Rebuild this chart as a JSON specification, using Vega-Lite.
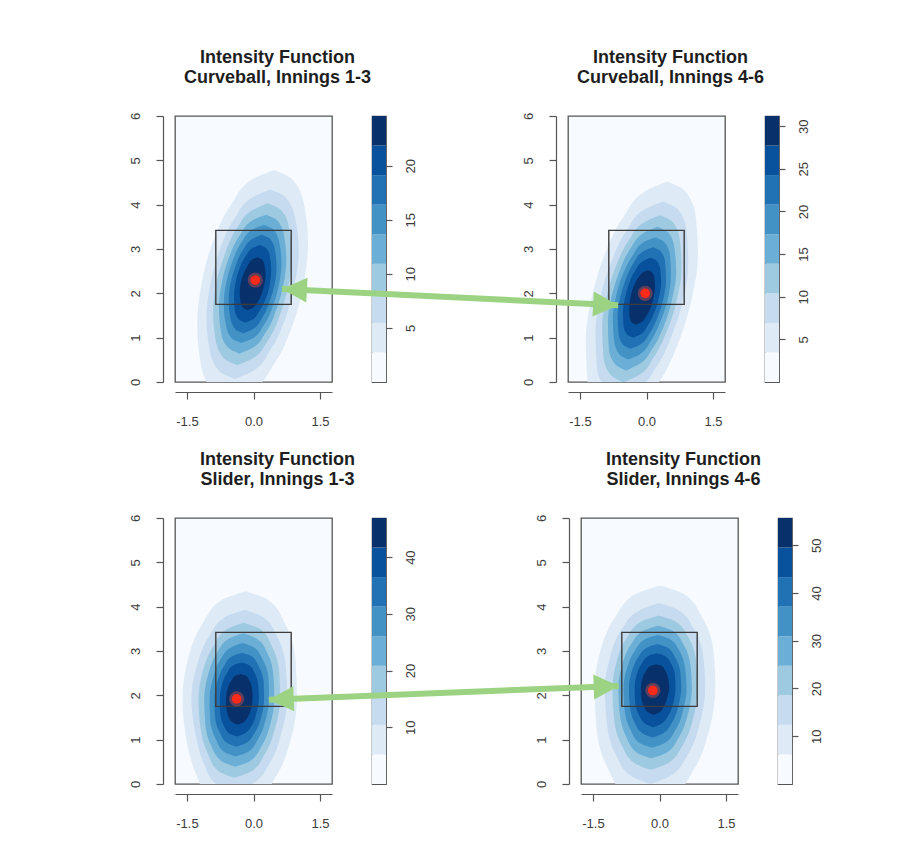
{
"$schema":"https://vega.github.io/schema/vega-lite/v6.json",
"background":"white",
"padding":{"left":128,"top":48,"right":0,"bottom":0},
"config":{
 "view":{"stroke":null},
 "font":"Liberation Sans",
 "axis":{"domainColor":"#555","tickColor":"#555","labelColor":"#3a3a3a","labelFont":"Liberation Sans","labelFontSize":13,"grid":false,"domainWidth":1.2,"tickWidth":1.2,"labelFlush":false,"labelOverlap":false},
 "title":{"font":"Liberation Sans","fontSize":18,"fontWeight":"bold","color":"#1e1e1e"}
},
"datasets":{
"heat":[
{"p":"TL","k":1,"y":-0.38,"a":-0.51,"b":-0.51},{"p":"TL","k":1,"y":-0.17,"a":-0.93,"b":-0.02},{"p":"TL","k":1,"y":0.40,"a":-1.19,"b":0.46},{"p":"TL","k":1,"y":1.31,"a":-1.27,"b":0.89},{"p":"TL","k":1,"y":2.22,"a":-1.17,"b":1.13},{"p":"TL","k":1,"y":3.12,"a":-0.93,"b":1.23},{"p":"TL","k":1,"y":4.01,"a":-0.50,"b":1.14},{"p":"TL","k":1,"y":4.57,"a":-0.03,"b":0.88},{"p":"TL","k":1,"y":4.78,"a":0.47,"b":0.47},
{"p":"TL","k":2,"y":0.07,"a":-0.43,"b":-0.43},{"p":"TL","k":2,"y":0.24,"a":-0.77,"b":-0.02},{"p":"TL","k":2,"y":0.72,"a":-0.99,"b":0.38},{"p":"TL","k":2,"y":1.47,"a":-1.06,"b":0.73},{"p":"TL","k":2,"y":2.22,"a":-0.97,"b":0.93},{"p":"TL","k":2,"y":2.96,"a":-0.77,"b":1.02},{"p":"TL","k":2,"y":3.70,"a":-0.42,"b":0.94},{"p":"TL","k":2,"y":4.17,"a":-0.02,"b":0.72},{"p":"TL","k":2,"y":4.34,"a":0.38,"b":0.38},
{"p":"TL","k":3,"y":0.38,"a":-0.37,"b":-0.37},{"p":"TL","k":3,"y":0.53,"a":-0.66,"b":-0.02},{"p":"TL","k":3,"y":0.93,"a":-0.85,"b":0.32},{"p":"TL","k":3,"y":1.58,"a":-0.91,"b":0.62},{"p":"TL","k":3,"y":2.22,"a":-0.84,"b":0.80},{"p":"TL","k":3,"y":2.85,"a":-0.66,"b":0.86},{"p":"TL","k":3,"y":3.49,"a":-0.36,"b":0.80},{"p":"TL","k":3,"y":3.88,"a":-0.02,"b":0.62},{"p":"TL","k":3,"y":4.03,"a":0.32,"b":0.32},
{"p":"TL","k":4,"y":0.64,"a":-0.32,"b":-0.32},{"p":"TL","k":4,"y":0.77,"a":-0.57,"b":-0.02},{"p":"TL","k":4,"y":1.11,"a":-0.73,"b":0.27},{"p":"TL","k":4,"y":1.67,"a":-0.78,"b":0.53},{"p":"TL","k":4,"y":2.22,"a":-0.72,"b":0.68},{"p":"TL","k":4,"y":2.76,"a":-0.57,"b":0.74},{"p":"TL","k":4,"y":3.31,"a":-0.31,"b":0.69},{"p":"TL","k":4,"y":3.65,"a":-0.02,"b":0.53},{"p":"TL","k":4,"y":3.77,"a":0.28,"b":0.28},
{"p":"TL","k":5,"y":0.88,"a":-0.28,"b":-0.28},{"p":"TL","k":5,"y":0.98,"a":-0.49,"b":-0.02},{"p":"TL","k":5,"y":1.28,"a":-0.62,"b":0.23},{"p":"TL","k":5,"y":1.75,"a":-0.67,"b":0.45},{"p":"TL","k":5,"y":2.22,"a":-0.62,"b":0.58},{"p":"TL","k":5,"y":2.68,"a":-0.49,"b":0.63},{"p":"TL","k":5,"y":3.15,"a":-0.27,"b":0.58},{"p":"TL","k":5,"y":3.44,"a":-0.02,"b":0.45},{"p":"TL","k":5,"y":3.54,"a":0.23,"b":0.23},
{"p":"TL","k":6,"y":1.10,"a":-0.23,"b":-0.23},{"p":"TL","k":6,"y":1.19,"a":-0.41,"b":-0.02},{"p":"TL","k":6,"y":1.44,"a":-0.52,"b":0.19},{"p":"TL","k":6,"y":1.83,"a":-0.56,"b":0.37},{"p":"TL","k":6,"y":2.22,"a":-0.52,"b":0.48},{"p":"TL","k":6,"y":2.60,"a":-0.41,"b":0.52},{"p":"TL","k":6,"y":2.99,"a":-0.23,"b":0.48},{"p":"TL","k":6,"y":3.23,"a":-0.02,"b":0.37},{"p":"TL","k":6,"y":3.32,"a":0.19,"b":0.19},
{"p":"TL","k":7,"y":1.34,"a":-0.19,"b":-0.19},{"p":"TL","k":7,"y":1.41,"a":-0.33,"b":-0.02},{"p":"TL","k":7,"y":1.61,"a":-0.42,"b":0.14},{"p":"TL","k":7,"y":1.91,"a":-0.44,"b":0.29},{"p":"TL","k":7,"y":2.22,"a":-0.41,"b":0.37},{"p":"TL","k":7,"y":2.52,"a":-0.33,"b":0.40},{"p":"TL","k":7,"y":2.83,"a":-0.18,"b":0.37},{"p":"TL","k":7,"y":3.02,"a":-0.02,"b":0.28},{"p":"TL","k":7,"y":3.09,"a":0.14,"b":0.14},
{"p":"TL","k":8,"y":1.62,"a":-0.13,"b":-0.13},{"p":"TL","k":8,"y":1.67,"a":-0.23,"b":-0.02},{"p":"TL","k":8,"y":1.80,"a":-0.29,"b":0.09},{"p":"TL","k":8,"y":2.01,"a":-0.31,"b":0.19},{"p":"TL","k":8,"y":2.22,"a":-0.29,"b":0.25},{"p":"TL","k":8,"y":2.43,"a":-0.23,"b":0.27},{"p":"TL","k":8,"y":2.63,"a":-0.13,"b":0.25},{"p":"TL","k":8,"y":2.77,"a":-0.02,"b":0.19},{"p":"TL","k":8,"y":2.81,"a":0.09,"b":0.09},
{"p":"TR","k":1,"y":-0.81,"a":-0.70,"b":-0.70},{"p":"TR","k":1,"y":-0.59,"a":-1.10,"b":-0.21},{"p":"TR","k":1,"y":0.01,"a":-1.33,"b":0.29},{"p":"TR","k":1,"y":0.97,"a":-1.37,"b":0.75},{"p":"TR","k":1,"y":1.92,"a":-1.23,"b":1.03},{"p":"TR","k":1,"y":2.83,"a":-0.96,"b":1.16},{"p":"TR","k":1,"y":3.74,"a":-0.51,"b":1.11},{"p":"TR","k":1,"y":4.31,"a":-0.02,"b":0.87},{"p":"TR","k":1,"y":4.52,"a":0.47,"b":0.47},
{"p":"TR","k":2,"y":-0.33,"a":-0.60,"b":-0.60},{"p":"TR","k":2,"y":-0.15,"a":-0.92,"b":-0.19},{"p":"TR","k":2,"y":0.34,"a":-1.12,"b":0.22},{"p":"TR","k":2,"y":1.13,"a":-1.15,"b":0.60},{"p":"TR","k":2,"y":1.92,"a":-1.04,"b":0.84},{"p":"TR","k":2,"y":2.67,"a":-0.81,"b":0.94},{"p":"TR","k":2,"y":3.43,"a":-0.44,"b":0.90},{"p":"TR","k":2,"y":3.90,"a":-0.03,"b":0.70},{"p":"TR","k":2,"y":4.07,"a":0.37,"b":0.37},
{"p":"TR","k":3,"y":-0.01,"a":-0.52,"b":-0.52},{"p":"TR","k":3,"y":0.15,"a":-0.80,"b":-0.18},{"p":"TR","k":3,"y":0.57,"a":-0.97,"b":0.17},{"p":"TR","k":3,"y":1.25,"a":-1.00,"b":0.50},{"p":"TR","k":3,"y":1.92,"a":-0.90,"b":0.70},{"p":"TR","k":3,"y":2.56,"a":-0.71,"b":0.79},{"p":"TR","k":3,"y":3.21,"a":-0.39,"b":0.75},{"p":"TR","k":3,"y":3.61,"a":-0.04,"b":0.59},{"p":"TR","k":3,"y":3.76,"a":0.30,"b":0.30},
{"p":"TR","k":4,"y":0.26,"a":-0.46,"b":-0.46},{"p":"TR","k":4,"y":0.40,"a":-0.71,"b":-0.17},{"p":"TR","k":4,"y":0.76,"a":-0.85,"b":0.14},{"p":"TR","k":4,"y":1.34,"a":-0.87,"b":0.42},{"p":"TR","k":4,"y":1.92,"a":-0.79,"b":0.59},{"p":"TR","k":4,"y":2.47,"a":-0.62,"b":0.67},{"p":"TR","k":4,"y":3.03,"a":-0.35,"b":0.63},{"p":"TR","k":4,"y":3.37,"a":-0.05,"b":0.49},{"p":"TR","k":4,"y":3.50,"a":0.25,"b":0.25},
{"p":"TR","k":5,"y":0.51,"a":-0.41,"b":-0.41},{"p":"TR","k":5,"y":0.62,"a":-0.61,"b":-0.16},{"p":"TR","k":5,"y":0.93,"a":-0.73,"b":0.10},{"p":"TR","k":5,"y":1.43,"a":-0.76,"b":0.34},{"p":"TR","k":5,"y":1.92,"a":-0.69,"b":0.49},{"p":"TR","k":5,"y":2.39,"a":-0.55,"b":0.55},{"p":"TR","k":5,"y":2.86,"a":-0.31,"b":0.53},{"p":"TR","k":5,"y":3.16,"a":-0.06,"b":0.40},{"p":"TR","k":5,"y":3.26,"a":0.20,"b":0.20},
{"p":"TR","k":6,"y":0.75,"a":-0.36,"b":-0.36},{"p":"TR","k":6,"y":0.84,"a":-0.53,"b":-0.15},{"p":"TR","k":6,"y":1.10,"a":-0.63,"b":0.07},{"p":"TR","k":6,"y":1.51,"a":-0.65,"b":0.27},{"p":"TR","k":6,"y":1.92,"a":-0.59,"b":0.39},{"p":"TR","k":6,"y":2.31,"a":-0.47,"b":0.44},{"p":"TR","k":6,"y":2.70,"a":-0.28,"b":0.42},{"p":"TR","k":6,"y":2.95,"a":-0.07,"b":0.32},{"p":"TR","k":6,"y":3.04,"a":0.15,"b":0.15},
{"p":"TR","k":7,"y":1.00,"a":-0.30,"b":-0.30},{"p":"TR","k":7,"y":1.07,"a":-0.44,"b":-0.14},{"p":"TR","k":7,"y":1.28,"a":-0.52,"b":0.03},{"p":"TR","k":7,"y":1.60,"a":-0.53,"b":0.19},{"p":"TR","k":7,"y":1.92,"a":-0.48,"b":0.28},{"p":"TR","k":7,"y":2.23,"a":-0.39,"b":0.33},{"p":"TR","k":7,"y":2.54,"a":-0.24,"b":0.31},{"p":"TR","k":7,"y":2.73,"a":-0.07,"b":0.23},{"p":"TR","k":7,"y":2.80,"a":0.09,"b":0.09},
{"p":"TR","k":8,"y":1.29,"a":-0.24,"b":-0.24},{"p":"TR","k":8,"y":1.34,"a":-0.33,"b":-0.13},{"p":"TR","k":8,"y":1.48,"a":-0.38,"b":-0.01},{"p":"TR","k":8,"y":1.70,"a":-0.39,"b":0.10},{"p":"TR","k":8,"y":1.92,"a":-0.36,"b":0.16},{"p":"TR","k":8,"y":2.13,"a":-0.30,"b":0.19},{"p":"TR","k":8,"y":2.34,"a":-0.19,"b":0.18},{"p":"TR","k":8,"y":2.47,"a":-0.08,"b":0.13},{"p":"TR","k":8,"y":2.52,"a":0.03,"b":0.03},
{"p":"BL","k":1,"y":-0.60,"a":-0.47,"b":-0.47},{"p":"BL","k":1,"y":-0.39,"a":-0.97,"b":0.05},{"p":"BL","k":1,"y":0.16,"a":-1.27,"b":0.50},{"p":"BL","k":1,"y":1.04,"a":-1.52,"b":0.85},{"p":"BL","k":1,"y":1.92,"a":-1.60,"b":0.98},{"p":"BL","k":1,"y":2.77,"a":-1.49,"b":0.95},{"p":"BL","k":1,"y":3.62,"a":-1.15,"b":0.71},{"p":"BL","k":1,"y":4.16,"a":-0.70,"b":0.32},{"p":"BL","k":1,"y":4.35,"a":-0.17,"b":-0.17},
{"p":"BL","k":2,"y":-0.16,"a":-0.45,"b":-0.45},{"p":"BL","k":2,"y":0.01,"a":-0.86,"b":-0.01},{"p":"BL","k":2,"y":0.46,"a":-1.12,"b":0.36},{"p":"BL","k":2,"y":1.19,"a":-1.32,"b":0.64},{"p":"BL","k":2,"y":1.92,"a":-1.40,"b":0.76},{"p":"BL","k":2,"y":2.62,"a":-1.29,"b":0.73},{"p":"BL","k":2,"y":3.33,"a":-1.00,"b":0.53},{"p":"BL","k":2,"y":3.77,"a":-0.63,"b":0.21},{"p":"BL","k":2,"y":3.93,"a":-0.20,"b":-0.20},
{"p":"BL","k":3,"y":0.14,"a":-0.43,"b":-0.43},{"p":"BL","k":3,"y":0.28,"a":-0.78,"b":-0.06},{"p":"BL","k":3,"y":0.68,"a":-1.03,"b":0.26},{"p":"BL","k":3,"y":1.30,"a":-1.20,"b":0.50},{"p":"BL","k":3,"y":1.92,"a":-1.24,"b":0.60},{"p":"BL","k":3,"y":2.52,"a":-1.15,"b":0.58},{"p":"BL","k":3,"y":3.12,"a":-0.90,"b":0.41},{"p":"BL","k":3,"y":3.50,"a":-0.59,"b":0.14},{"p":"BL","k":3,"y":3.64,"a":-0.22,"b":-0.22},
{"p":"BL","k":4,"y":0.39,"a":-0.41,"b":-0.41},{"p":"BL","k":4,"y":0.51,"a":-0.71,"b":-0.09},{"p":"BL","k":4,"y":0.85,"a":-0.95,"b":0.18},{"p":"BL","k":4,"y":1.39,"a":-1.09,"b":0.39},{"p":"BL","k":4,"y":1.92,"a":-1.11,"b":0.47},{"p":"BL","k":4,"y":2.44,"a":-1.03,"b":0.45},{"p":"BL","k":4,"y":2.96,"a":-0.82,"b":0.31},{"p":"BL","k":4,"y":3.28,"a":-0.55,"b":0.07},{"p":"BL","k":4,"y":3.40,"a":-0.23,"b":-0.23},
{"p":"BL","k":5,"y":0.62,"a":-0.40,"b":-0.40},{"p":"BL","k":5,"y":0.72,"a":-0.66,"b":-0.13},{"p":"BL","k":5,"y":1.01,"a":-0.85,"b":0.10},{"p":"BL","k":5,"y":1.47,"a":-0.98,"b":0.28},{"p":"BL","k":5,"y":1.92,"a":-0.99,"b":0.35},{"p":"BL","k":5,"y":2.36,"a":-0.92,"b":0.34},{"p":"BL","k":5,"y":2.80,"a":-0.75,"b":0.21},{"p":"BL","k":5,"y":3.08,"a":-0.51,"b":0.01},{"p":"BL","k":5,"y":3.18,"a":-0.25,"b":-0.25},
{"p":"BL","k":6,"y":0.84,"a":-0.39,"b":-0.39},{"p":"BL","k":6,"y":0.93,"a":-0.60,"b":-0.16},{"p":"BL","k":6,"y":1.16,"a":-0.76,"b":0.03},{"p":"BL","k":6,"y":1.54,"a":-0.87,"b":0.18},{"p":"BL","k":6,"y":1.92,"a":-0.88,"b":0.24},{"p":"BL","k":6,"y":2.29,"a":-0.82,"b":0.23},{"p":"BL","k":6,"y":2.65,"a":-0.67,"b":0.12},{"p":"BL","k":6,"y":2.88,"a":-0.48,"b":-0.04},{"p":"BL","k":6,"y":2.96,"a":-0.26,"b":-0.26},
{"p":"BL","k":7,"y":1.07,"a":-0.37,"b":-0.37},{"p":"BL","k":7,"y":1.14,"a":-0.54,"b":-0.20},{"p":"BL","k":7,"y":1.32,"a":-0.67,"b":-0.04},{"p":"BL","k":7,"y":1.62,"a":-0.75,"b":0.07},{"p":"BL","k":7,"y":1.92,"a":-0.76,"b":0.12},{"p":"BL","k":7,"y":2.21,"a":-0.72,"b":0.11},{"p":"BL","k":7,"y":2.50,"a":-0.60,"b":0.03},{"p":"BL","k":7,"y":2.68,"a":-0.45,"b":-0.10},{"p":"BL","k":7,"y":2.74,"a":-0.27,"b":-0.27},
{"p":"BL","k":8,"y":1.34,"a":-0.36,"b":-0.36},{"p":"BL","k":8,"y":1.39,"a":-0.47,"b":-0.23},{"p":"BL","k":8,"y":1.51,"a":-0.56,"b":-0.13},{"p":"BL","k":8,"y":1.72,"a":-0.61,"b":-0.05},{"p":"BL","k":8,"y":1.92,"a":-0.62,"b":-0.02},{"p":"BL","k":8,"y":2.12,"a":-0.59,"b":-0.03},{"p":"BL","k":8,"y":2.31,"a":-0.51,"b":-0.08},{"p":"BL","k":8,"y":2.44,"a":-0.41,"b":-0.17},{"p":"BL","k":8,"y":2.48,"a":-0.29,"b":-0.29},
{"p":"BR","k":1,"y":-0.45,"a":-0.23,"b":-0.23},{"p":"BR","k":1,"y":-0.24,"a":-0.76,"b":0.31},{"p":"BR","k":1,"y":0.34,"a":-1.16,"b":0.78},{"p":"BR","k":1,"y":1.25,"a":-1.42,"b":1.13},{"p":"BR","k":1,"y":2.17,"a":-1.46,"b":1.26},{"p":"BR","k":1,"y":2.98,"a":-1.34,"b":1.22},{"p":"BR","k":1,"y":3.78,"a":-0.99,"b":0.95},{"p":"BR","k":1,"y":4.29,"a":-0.53,"b":0.54},{"p":"BR","k":1,"y":4.48,"a":0.02,"b":0.02},
{"p":"BR","k":2,"y":0.00,"a":-0.21,"b":-0.21},{"p":"BR","k":2,"y":0.18,"a":-0.64,"b":0.24},{"p":"BR","k":2,"y":0.65,"a":-0.98,"b":0.63},{"p":"BR","k":2,"y":1.41,"a":-1.19,"b":0.92},{"p":"BR","k":2,"y":2.17,"a":-1.23,"b":1.03},{"p":"BR","k":2,"y":2.84,"a":-1.12,"b":0.99},{"p":"BR","k":2,"y":3.51,"a":-0.84,"b":0.77},{"p":"BR","k":2,"y":3.92,"a":-0.45,"b":0.43},{"p":"BR","k":2,"y":4.08,"a":-0.01,"b":-0.01},
{"p":"BR","k":3,"y":0.32,"a":-0.19,"b":-0.19},{"p":"BR","k":3,"y":0.47,"a":-0.56,"b":0.19},{"p":"BR","k":3,"y":0.87,"a":-0.85,"b":0.52},{"p":"BR","k":3,"y":1.52,"a":-1.03,"b":0.77},{"p":"BR","k":3,"y":2.17,"a":-1.06,"b":0.86},{"p":"BR","k":3,"y":2.74,"a":-0.97,"b":0.83},{"p":"BR","k":3,"y":3.31,"a":-0.73,"b":0.65},{"p":"BR","k":3,"y":3.67,"a":-0.40,"b":0.35},{"p":"BR","k":3,"y":3.80,"a":-0.02,"b":-0.02},
{"p":"BR","k":4,"y":0.58,"a":-0.18,"b":-0.18},{"p":"BR","k":4,"y":0.70,"a":-0.50,"b":0.15},{"p":"BR","k":4,"y":1.06,"a":-0.75,"b":0.44},{"p":"BR","k":4,"y":1.61,"a":-0.90,"b":0.65},{"p":"BR","k":4,"y":2.17,"a":-0.93,"b":0.73},{"p":"BR","k":4,"y":2.66,"a":-0.85,"b":0.70},{"p":"BR","k":4,"y":3.15,"a":-0.64,"b":0.54},{"p":"BR","k":4,"y":3.46,"a":-0.36,"b":0.29},{"p":"BR","k":4,"y":3.57,"a":-0.03,"b":-0.03},
{"p":"BR","k":5,"y":0.82,"a":-0.17,"b":-0.17},{"p":"BR","k":5,"y":0.92,"a":-0.44,"b":0.11},{"p":"BR","k":5,"y":1.22,"a":-0.65,"b":0.36},{"p":"BR","k":5,"y":1.70,"a":-0.79,"b":0.54},{"p":"BR","k":5,"y":2.17,"a":-0.81,"b":0.61},{"p":"BR","k":5,"y":2.59,"a":-0.74,"b":0.58},{"p":"BR","k":5,"y":3.00,"a":-0.56,"b":0.45},{"p":"BR","k":5,"y":3.27,"a":-0.32,"b":0.23},{"p":"BR","k":5,"y":3.36,"a":-0.04,"b":-0.04},
{"p":"BR","k":6,"y":1.05,"a":-0.16,"b":-0.16},{"p":"BR","k":6,"y":1.14,"a":-0.38,"b":0.08},{"p":"BR","k":6,"y":1.38,"a":-0.56,"b":0.28},{"p":"BR","k":6,"y":1.78,"a":-0.67,"b":0.43},{"p":"BR","k":6,"y":2.17,"a":-0.69,"b":0.49},{"p":"BR","k":6,"y":2.52,"a":-0.63,"b":0.47},{"p":"BR","k":6,"y":2.86,"a":-0.48,"b":0.35},{"p":"BR","k":6,"y":3.08,"a":-0.28,"b":0.18},{"p":"BR","k":6,"y":3.16,"a":-0.05,"b":-0.05},
{"p":"BR","k":7,"y":1.28,"a":-0.14,"b":-0.14},{"p":"BR","k":7,"y":1.36,"a":-0.32,"b":0.04},{"p":"BR","k":7,"y":1.55,"a":-0.46,"b":0.20},{"p":"BR","k":7,"y":1.86,"a":-0.55,"b":0.32},{"p":"BR","k":7,"y":2.17,"a":-0.56,"b":0.36},{"p":"BR","k":7,"y":2.44,"a":-0.52,"b":0.35},{"p":"BR","k":7,"y":2.72,"a":-0.40,"b":0.26},{"p":"BR","k":7,"y":2.89,"a":-0.25,"b":0.12},{"p":"BR","k":7,"y":2.95,"a":-0.06,"b":-0.06},
{"p":"BR","k":8,"y":1.56,"a":-0.13,"b":-0.13},{"p":"BR","k":8,"y":1.61,"a":-0.25,"b":-0.01},{"p":"BR","k":8,"y":1.75,"a":-0.35,"b":0.10},{"p":"BR","k":8,"y":1.96,"a":-0.41,"b":0.18},{"p":"BR","k":8,"y":2.17,"a":-0.42,"b":0.22},{"p":"BR","k":8,"y":2.36,"a":-0.39,"b":0.20},{"p":"BR","k":8,"y":2.54,"a":-0.31,"b":0.14},{"p":"BR","k":8,"y":2.66,"a":-0.20,"b":0.05},{"p":"BR","k":8,"y":2.70,"a":-0.07,"b":-0.07}
],
"zone":[{"x1":-0.85,"x2":0.85,"y1":1.75,"y2":3.42}],
"dots":[{"p":"TL","x":0.04,"y":2.30},{"p":"TR","x":-0.03,"y":2.0},{"p":"BL","x":-0.38,"y":1.92},{"p":"BR","x":-0.15,"y":2.11}],
"arrows":[{"p":"TR","tx":-8.22,"ty":2.10,"hx":-0.64,"hy":1.73},{"p":"BR","tx":-8.81,"ty":1.90,"hx":-0.92,"hy":2.21}],
"bars":[
{"p":"TL","k":0,"lo":0,"hi":2.73},{"p":"TL","k":1,"lo":2.73,"hi":5.47},{"p":"TL","k":2,"lo":5.47,"hi":8.2},{"p":"TL","k":3,"lo":8.2,"hi":10.93},{"p":"TL","k":4,"lo":10.93,"hi":13.67},{"p":"TL","k":5,"lo":13.67,"hi":16.4},{"p":"TL","k":6,"lo":16.4,"hi":19.13},{"p":"TL","k":7,"lo":19.13,"hi":21.87},{"p":"TL","k":8,"lo":21.87,"hi":24.6},
{"p":"TR","k":0,"lo":0,"hi":3.47},{"p":"TR","k":1,"lo":3.47,"hi":6.93},{"p":"TR","k":2,"lo":6.93,"hi":10.4},{"p":"TR","k":3,"lo":10.4,"hi":13.87},{"p":"TR","k":4,"lo":13.87,"hi":17.33},{"p":"TR","k":5,"lo":17.33,"hi":20.8},{"p":"TR","k":6,"lo":20.8,"hi":24.27},{"p":"TR","k":7,"lo":24.27,"hi":27.73},{"p":"TR","k":8,"lo":27.73,"hi":31.2},
{"p":"BL","k":0,"lo":0,"hi":5.21},{"p":"BL","k":1,"lo":5.21,"hi":10.42},{"p":"BL","k":2,"lo":10.42,"hi":15.63},{"p":"BL","k":3,"lo":15.63,"hi":20.84},{"p":"BL","k":4,"lo":20.84,"hi":26.06},{"p":"BL","k":5,"lo":26.06,"hi":31.27},{"p":"BL","k":6,"lo":31.27,"hi":36.48},{"p":"BL","k":7,"lo":36.48,"hi":41.69},{"p":"BL","k":8,"lo":41.69,"hi":46.9},
{"p":"BR","k":0,"lo":0,"hi":6.19},{"p":"BR","k":1,"lo":6.19,"hi":12.38},{"p":"BR","k":2,"lo":12.38,"hi":18.57},{"p":"BR","k":3,"lo":18.57,"hi":24.76},{"p":"BR","k":4,"lo":24.76,"hi":30.94},{"p":"BR","k":5,"lo":30.94,"hi":37.13},{"p":"BR","k":6,"lo":37.13,"hi":43.32},{"p":"BR","k":7,"lo":43.32,"hi":49.51},{"p":"BR","k":8,"lo":49.51,"hi":55.7}
]
},
"spacing":21,
"resolve":{"scale":{"x":"independent","y":"independent"}},
"vconcat":[
{"bounds":"flush","spacing":40,"resolve":{"scale":{"x":"independent","y":"independent"}},
 "hconcat":[
  {"width":157,"height":266,"view":{"fill":"#F7FBFF","stroke":"#555","strokeWidth":1.3},
   "title":{"text":["Intensity Function","Curveball, Innings 1-3"],"frame":"group","anchor":"middle","baseline":"bottom","offset":7,"lineHeight":20,"dx":24},
   "layer":[
    {"data":{"name":"heat"},"transform":[{"filter":"datum.p === 'TL'"}],
     "mark":{"type":"area","orient":"horizontal","interpolate":"monotone","clip":true,"opacity":1},
     "encoding":{
      "y":{"field":"y","type":"quantitative","scale":{"domain":[0,6],"nice":false,"zero":false},"axis":{"values":[0,1,2,3,4,5,6],"offset":12,"tickSize":7,"labelAngle":270,"labelAlign":"center","labelBaseline":"bottom","labelPadding":14,"title":null}},
      "x":{"field":"a","type":"quantitative","scale":{"domain":[-1.77,1.77],"nice":false,"zero":false},"axis":{"values":[-1.5,0,1.5],"labelExpr":"datum.value < 0 ? '-' + format(-datum.value, '.1f') : format(datum.value, '.1f')","offset":10,"tickSize":7,"labelPadding":16,"title":null}},
      "x2":{"field":"b"},
      "color":{"field":"k","type":"ordinal","scale":{"domain":[0,1,2,3,4,5,6,7,8],"range":["#F7FBFF","#DEEBF7","#C6DBEF","#9ECAE1","#6BAED6","#4292C6","#2171B5","#08519C","#08306B"]},"legend":null}}},
    {"data":{"name":"zone"},"mark":{"type":"rect","filled":false,"color":"#3c3c3c","strokeWidth":1.4},
     "encoding":{"x":{"field":"x1","type":"quantitative","scale":{"domain":[-1.77,1.77],"nice":false,"zero":false}},"x2":{"field":"x2"},"y":{"field":"y1","type":"quantitative","scale":{"domain":[0,6],"nice":false,"zero":false}},"y2":{"field":"y2"}}},
    {"data":{"name":"dots"},"transform":[{"filter":"datum.p === 'TL'"}],"mark":{"type":"point","filled":true,"shape":"circle","size":230,"color":"#ff5a40","opacity":0.35,"strokeWidth":0},
     "encoding":{"x":{"field":"x","type":"quantitative","scale":{"domain":[-1.77,1.77],"nice":false,"zero":false}},"y":{"field":"y","type":"quantitative","scale":{"domain":[0,6],"nice":false,"zero":false}}}},
    {"data":{"name":"dots"},"transform":[{"filter":"datum.p === 'TL'"}],"mark":{"type":"point","filled":true,"shape":"circle","size":95,"color":"#ff2a1a","opacity":1,"strokeWidth":0},
     "encoding":{"x":{"field":"x","type":"quantitative","scale":{"domain":[-1.77,1.77],"nice":false,"zero":false}},"y":{"field":"y","type":"quantitative","scale":{"domain":[0,6],"nice":false,"zero":false}}}}
   ]},
  {"width":14,"height":266,"view":{"stroke":"#555","strokeWidth":1.2},
   "data":{"name":"bars"},"transform":[{"filter":"datum.p === 'TL'"}],
   "mark":{"type":"rect"},
   "encoding":{
    "y":{"field":"lo","type":"quantitative","scale":{"domain":[0,24.6],"nice":false,"zero":false},"axis":{"orient":"right","values":[5,10,15,20],"domain":false,"tickSize":6,"labelAngle":270,"labelAlign":"center","labelBaseline":"top","labelPadding":12,"title":null}},
    "y2":{"field":"hi"},
    "color":{"field":"k","type":"ordinal","scale":{"domain":[0,1,2,3,4,5,6,7,8],"range":["#F7FBFF","#DEEBF7","#C6DBEF","#9ECAE1","#6BAED6","#4292C6","#2171B5","#08519C","#08306B"]},"legend":null}}},
  {"width":102,"height":266,"data":{"values":[{}]},"mark":{"type":"text","text":""},"encoding":{}},
  {"width":157,"height":266,"view":{"fill":"#F7FBFF","stroke":"#555","strokeWidth":1.3},
   "title":{"text":["Intensity Function","Curveball, Innings 4-6"],"frame":"group","anchor":"middle","baseline":"bottom","offset":7,"lineHeight":20,"dx":24},
   "layer":[
    {"data":{"name":"heat"},"transform":[{"filter":"datum.p === 'TR'"}],
     "mark":{"type":"area","orient":"horizontal","interpolate":"monotone","clip":true,"opacity":1},
     "encoding":{
      "y":{"field":"y","type":"quantitative","scale":{"domain":[0,6],"nice":false,"zero":false},"axis":{"values":[0,1,2,3,4,5,6],"offset":12,"tickSize":7,"labelAngle":270,"labelAlign":"center","labelBaseline":"bottom","labelPadding":14,"title":null}},
      "x":{"field":"a","type":"quantitative","scale":{"domain":[-1.77,1.77],"nice":false,"zero":false},"axis":{"values":[-1.5,0,1.5],"labelExpr":"datum.value < 0 ? '-' + format(-datum.value, '.1f') : format(datum.value, '.1f')","offset":10,"tickSize":7,"labelPadding":16,"title":null}},
      "x2":{"field":"b"},
      "color":{"field":"k","type":"ordinal","scale":{"domain":[0,1,2,3,4,5,6,7,8],"range":["#F7FBFF","#DEEBF7","#C6DBEF","#9ECAE1","#6BAED6","#4292C6","#2171B5","#08519C","#08306B"]},"legend":null}}},
    {"data":{"name":"zone"},"mark":{"type":"rect","filled":false,"color":"#3c3c3c","strokeWidth":1.4},
     "encoding":{"x":{"field":"x1","type":"quantitative","scale":{"domain":[-1.77,1.77],"nice":false,"zero":false}},"x2":{"field":"x2"},"y":{"field":"y1","type":"quantitative","scale":{"domain":[0,6],"nice":false,"zero":false}},"y2":{"field":"y2"}}},
    {"data":{"name":"dots"},"transform":[{"filter":"datum.p === 'TR'"}],"mark":{"type":"point","filled":true,"shape":"circle","size":230,"color":"#ff5a40","opacity":0.35,"strokeWidth":0},
     "encoding":{"x":{"field":"x","type":"quantitative","scale":{"domain":[-1.77,1.77],"nice":false,"zero":false}},"y":{"field":"y","type":"quantitative","scale":{"domain":[0,6],"nice":false,"zero":false}}}},
    {"data":{"name":"dots"},"transform":[{"filter":"datum.p === 'TR'"}],"mark":{"type":"point","filled":true,"shape":"circle","size":95,"color":"#ff2a1a","opacity":1,"strokeWidth":0},
     "encoding":{"x":{"field":"x","type":"quantitative","scale":{"domain":[-1.77,1.77],"nice":false,"zero":false}},"y":{"field":"y","type":"quantitative","scale":{"domain":[0,6],"nice":false,"zero":false}}}},
    {"data":{"name":"arrows"},"transform":[{"filter":"datum.p === 'TR'"}],"mark":{"type":"rule","color":"#9cd383","strokeWidth":6},
     "encoding":{"x":{"field":"tx","type":"quantitative","scale":{"domain":[-1.77,1.77],"nice":false,"zero":false}},"x2":{"field":"hx"},"y":{"field":"ty","type":"quantitative","scale":{"domain":[0,6],"nice":false,"zero":false}},"y2":{"field":"hy"}}},
    {"data":{"name":"arrows"},"transform":[{"filter":"datum.p === 'TR'"}],"mark":{"type":"point","filled":true,"shape":"M0,0L-2,-1L-2,1Z","size":625,"angle":2.84,"color":"#9cd383","opacity":1,"strokeWidth":0},
     "encoding":{"x":{"field":"hx","type":"quantitative","scale":{"domain":[-1.77,1.77],"nice":false,"zero":false}},"y":{"field":"hy","type":"quantitative","scale":{"domain":[0,6],"nice":false,"zero":false}}}},
    {"data":{"name":"arrows"},"transform":[{"filter":"datum.p === 'TR'"}],"mark":{"type":"point","filled":true,"shape":"M0,0L2,-1L2,1Z","size":625,"angle":2.84,"color":"#9cd383","opacity":1,"strokeWidth":0},
     "encoding":{"x":{"field":"tx","type":"quantitative","scale":{"domain":[-1.77,1.77],"nice":false,"zero":false}},"y":{"field":"ty","type":"quantitative","scale":{"domain":[0,6],"nice":false,"zero":false}}}}
   ]},
  {"width":14,"height":266,"view":{"stroke":"#555","strokeWidth":1.2},
   "data":{"name":"bars"},"transform":[{"filter":"datum.p === 'TR'"}],
   "mark":{"type":"rect"},
   "encoding":{
    "y":{"field":"lo","type":"quantitative","scale":{"domain":[0,31.2],"nice":false,"zero":false},"axis":{"orient":"right","values":[5,10,15,20,25,30],"domain":false,"tickSize":6,"labelAngle":270,"labelAlign":"center","labelBaseline":"top","labelPadding":12,"title":null}},
    "y2":{"field":"hi"},
    "color":{"field":"k","type":"ordinal","scale":{"domain":[0,1,2,3,4,5,6,7,8],"range":["#F7FBFF","#DEEBF7","#C6DBEF","#9ECAE1","#6BAED6","#4292C6","#2171B5","#08519C","#08306B"]},"legend":null}}}
 ]},
{"bounds":"flush","spacing":40,"resolve":{"scale":{"x":"independent","y":"independent"}},
 "hconcat":[
  {"width":157,"height":266,"view":{"fill":"#F7FBFF","stroke":"#555","strokeWidth":1.3},
   "title":{"text":["Intensity Function","Slider, Innings 1-3"],"frame":"group","anchor":"middle","baseline":"bottom","offset":7,"lineHeight":20,"dx":24},
   "layer":[
    {"data":{"name":"heat"},"transform":[{"filter":"datum.p === 'BL'"}],
     "mark":{"type":"area","orient":"horizontal","interpolate":"monotone","clip":true,"opacity":1},
     "encoding":{
      "y":{"field":"y","type":"quantitative","scale":{"domain":[0,6],"nice":false,"zero":false},"axis":{"values":[0,1,2,3,4,5,6],"offset":12,"tickSize":7,"labelAngle":270,"labelAlign":"center","labelBaseline":"bottom","labelPadding":14,"title":null}},
      "x":{"field":"a","type":"quantitative","scale":{"domain":[-1.77,1.77],"nice":false,"zero":false},"axis":{"values":[-1.5,0,1.5],"labelExpr":"datum.value < 0 ? '-' + format(-datum.value, '.1f') : format(datum.value, '.1f')","offset":10,"tickSize":7,"labelPadding":16,"title":null}},
      "x2":{"field":"b"},
      "color":{"field":"k","type":"ordinal","scale":{"domain":[0,1,2,3,4,5,6,7,8],"range":["#F7FBFF","#DEEBF7","#C6DBEF","#9ECAE1","#6BAED6","#4292C6","#2171B5","#08519C","#08306B"]},"legend":null}}},
    {"data":{"name":"zone"},"mark":{"type":"rect","filled":false,"color":"#3c3c3c","strokeWidth":1.4},
     "encoding":{"x":{"field":"x1","type":"quantitative","scale":{"domain":[-1.77,1.77],"nice":false,"zero":false}},"x2":{"field":"x2"},"y":{"field":"y1","type":"quantitative","scale":{"domain":[0,6],"nice":false,"zero":false}},"y2":{"field":"y2"}}},
    {"data":{"name":"dots"},"transform":[{"filter":"datum.p === 'BL'"}],"mark":{"type":"point","filled":true,"shape":"circle","size":230,"color":"#ff5a40","opacity":0.35,"strokeWidth":0},
     "encoding":{"x":{"field":"x","type":"quantitative","scale":{"domain":[-1.77,1.77],"nice":false,"zero":false}},"y":{"field":"y","type":"quantitative","scale":{"domain":[0,6],"nice":false,"zero":false}}}},
    {"data":{"name":"dots"},"transform":[{"filter":"datum.p === 'BL'"}],"mark":{"type":"point","filled":true,"shape":"circle","size":95,"color":"#ff2a1a","opacity":1,"strokeWidth":0},
     "encoding":{"x":{"field":"x","type":"quantitative","scale":{"domain":[-1.77,1.77],"nice":false,"zero":false}},"y":{"field":"y","type":"quantitative","scale":{"domain":[0,6],"nice":false,"zero":false}}}}
   ]},
  {"width":14,"height":266,"view":{"stroke":"#555","strokeWidth":1.2},
   "data":{"name":"bars"},"transform":[{"filter":"datum.p === 'BL'"}],
   "mark":{"type":"rect"},
   "encoding":{
    "y":{"field":"lo","type":"quantitative","scale":{"domain":[0,46.9],"nice":false,"zero":false},"axis":{"orient":"right","values":[10,20,30,40],"domain":false,"tickSize":6,"labelAngle":270,"labelAlign":"center","labelBaseline":"top","labelPadding":12,"title":null}},
    "y2":{"field":"hi"},
    "color":{"field":"k","type":"ordinal","scale":{"domain":[0,1,2,3,4,5,6,7,8],"range":["#F7FBFF","#DEEBF7","#C6DBEF","#9ECAE1","#6BAED6","#4292C6","#2171B5","#08519C","#08306B"]},"legend":null}}},
  {"width":115,"height":266,"data":{"values":[{}]},"mark":{"type":"text","text":""},"encoding":{}},
  {"width":157,"height":266,"view":{"fill":"#F7FBFF","stroke":"#555","strokeWidth":1.3},
   "title":{"text":["Intensity Function","Slider, Innings 4-6"],"frame":"group","anchor":"middle","baseline":"bottom","offset":7,"lineHeight":20,"dx":24},
   "layer":[
    {"data":{"name":"heat"},"transform":[{"filter":"datum.p === 'BR'"}],
     "mark":{"type":"area","orient":"horizontal","interpolate":"monotone","clip":true,"opacity":1},
     "encoding":{
      "y":{"field":"y","type":"quantitative","scale":{"domain":[0,6],"nice":false,"zero":false},"axis":{"values":[0,1,2,3,4,5,6],"offset":12,"tickSize":7,"labelAngle":270,"labelAlign":"center","labelBaseline":"bottom","labelPadding":14,"title":null}},
      "x":{"field":"a","type":"quantitative","scale":{"domain":[-1.77,1.77],"nice":false,"zero":false},"axis":{"values":[-1.5,0,1.5],"labelExpr":"datum.value < 0 ? '-' + format(-datum.value, '.1f') : format(datum.value, '.1f')","offset":10,"tickSize":7,"labelPadding":16,"title":null}},
      "x2":{"field":"b"},
      "color":{"field":"k","type":"ordinal","scale":{"domain":[0,1,2,3,4,5,6,7,8],"range":["#F7FBFF","#DEEBF7","#C6DBEF","#9ECAE1","#6BAED6","#4292C6","#2171B5","#08519C","#08306B"]},"legend":null}}},
    {"data":{"name":"zone"},"mark":{"type":"rect","filled":false,"color":"#3c3c3c","strokeWidth":1.4},
     "encoding":{"x":{"field":"x1","type":"quantitative","scale":{"domain":[-1.77,1.77],"nice":false,"zero":false}},"x2":{"field":"x2"},"y":{"field":"y1","type":"quantitative","scale":{"domain":[0,6],"nice":false,"zero":false}},"y2":{"field":"y2"}}},
    {"data":{"name":"dots"},"transform":[{"filter":"datum.p === 'BR'"}],"mark":{"type":"point","filled":true,"shape":"circle","size":230,"color":"#ff5a40","opacity":0.35,"strokeWidth":0},
     "encoding":{"x":{"field":"x","type":"quantitative","scale":{"domain":[-1.77,1.77],"nice":false,"zero":false}},"y":{"field":"y","type":"quantitative","scale":{"domain":[0,6],"nice":false,"zero":false}}}},
    {"data":{"name":"dots"},"transform":[{"filter":"datum.p === 'BR'"}],"mark":{"type":"point","filled":true,"shape":"circle","size":95,"color":"#ff2a1a","opacity":1,"strokeWidth":0},
     "encoding":{"x":{"field":"x","type":"quantitative","scale":{"domain":[-1.77,1.77],"nice":false,"zero":false}},"y":{"field":"y","type":"quantitative","scale":{"domain":[0,6],"nice":false,"zero":false}}}},
    {"data":{"name":"arrows"},"transform":[{"filter":"datum.p === 'BR'"}],"mark":{"type":"rule","color":"#9cd383","strokeWidth":6},
     "encoding":{"x":{"field":"tx","type":"quantitative","scale":{"domain":[-1.77,1.77],"nice":false,"zero":false}},"x2":{"field":"hx"},"y":{"field":"ty","type":"quantitative","scale":{"domain":[0,6],"nice":false,"zero":false}},"y2":{"field":"hy"}}},
    {"data":{"name":"arrows"},"transform":[{"filter":"datum.p === 'BR'"}],"mark":{"type":"point","filled":true,"shape":"M0,0L-2,-1L-2,1Z","size":625,"angle":-2.26,"color":"#9cd383","opacity":1,"strokeWidth":0},
     "encoding":{"x":{"field":"hx","type":"quantitative","scale":{"domain":[-1.77,1.77],"nice":false,"zero":false}},"y":{"field":"hy","type":"quantitative","scale":{"domain":[0,6],"nice":false,"zero":false}}}},
    {"data":{"name":"arrows"},"transform":[{"filter":"datum.p === 'BR'"}],"mark":{"type":"point","filled":true,"shape":"M0,0L2,-1L2,1Z","size":625,"angle":-2.26,"color":"#9cd383","opacity":1,"strokeWidth":0},
     "encoding":{"x":{"field":"tx","type":"quantitative","scale":{"domain":[-1.77,1.77],"nice":false,"zero":false}},"y":{"field":"ty","type":"quantitative","scale":{"domain":[0,6],"nice":false,"zero":false}}}}
   ]},
  {"width":14,"height":266,"view":{"stroke":"#555","strokeWidth":1.2},
   "data":{"name":"bars"},"transform":[{"filter":"datum.p === 'BR'"}],
   "mark":{"type":"rect"},
   "encoding":{
    "y":{"field":"lo","type":"quantitative","scale":{"domain":[0,55.7],"nice":false,"zero":false},"axis":{"orient":"right","values":[10,20,30,40,50],"domain":false,"tickSize":6,"labelAngle":270,"labelAlign":"center","labelBaseline":"top","labelPadding":12,"title":null}},
    "y2":{"field":"hi"},
    "color":{"field":"k","type":"ordinal","scale":{"domain":[0,1,2,3,4,5,6,7,8],"range":["#F7FBFF","#DEEBF7","#C6DBEF","#9ECAE1","#6BAED6","#4292C6","#2171B5","#08519C","#08306B"]},"legend":null}}}
 ]}
]
}
